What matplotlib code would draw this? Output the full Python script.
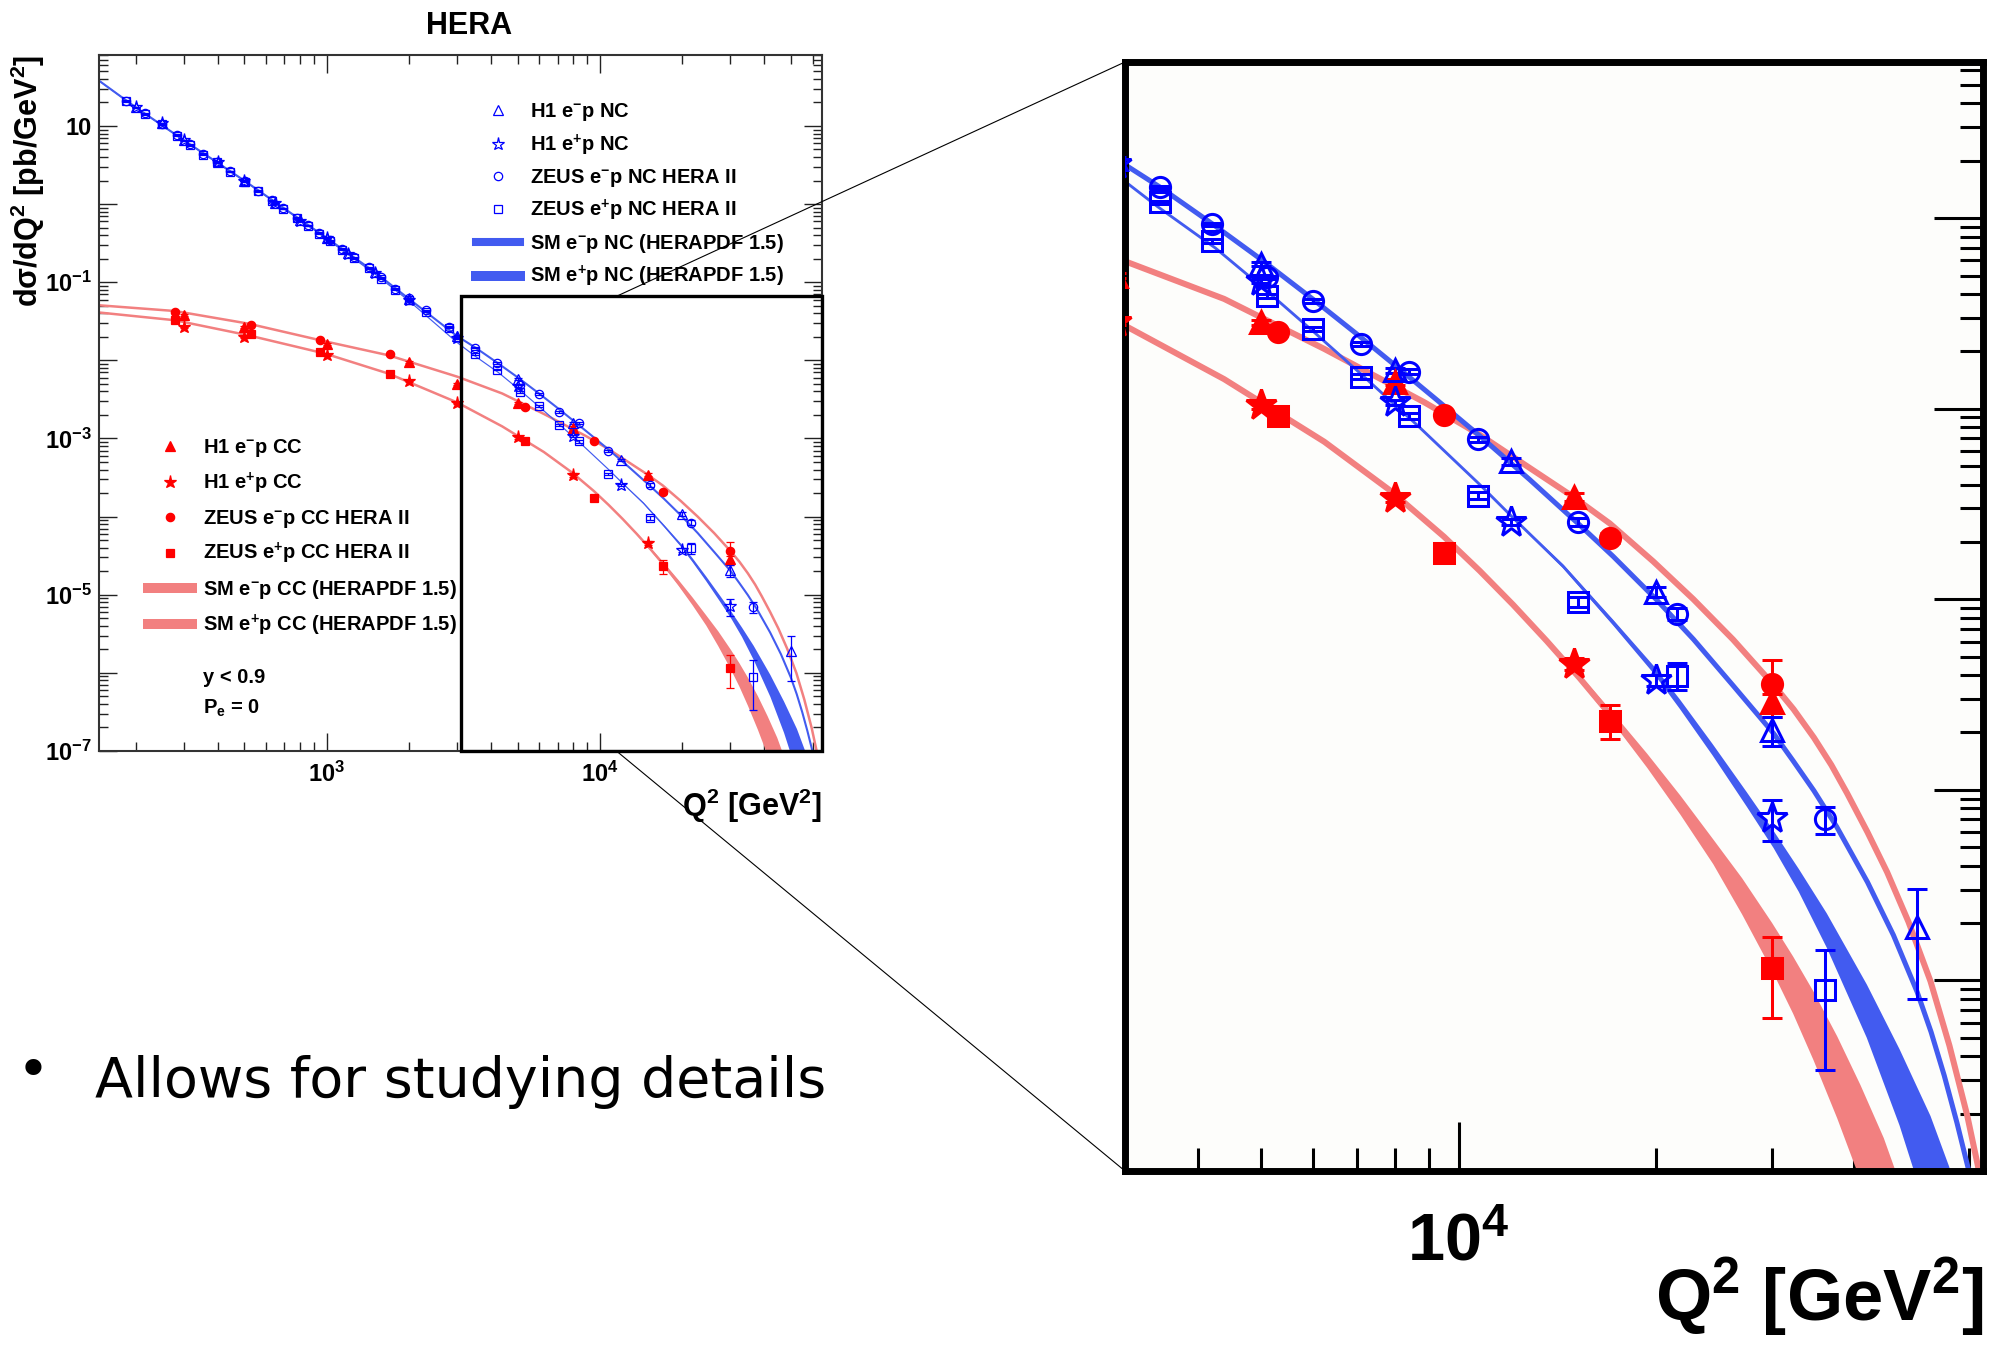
import numpy as np
import matplotlib
matplotlib.use('Agg')
import matplotlib.pyplot as plt
from matplotlib.lines import Line2D
from matplotlib.patches import Rectangle, ConnectionPatch
from matplotlib.ticker import LogLocator, FuncFormatter, NullFormatter

plt.rcParams['font.family'] = ['Liberation Sans', 'DejaVu Sans']
plt.rcParams['font.weight'] = 'bold'
plt.rcParams['mathtext.fontset'] = 'custom'
plt.rcParams['mathtext.rm'] = 'Liberation Sans:bold'
plt.rcParams['mathtext.it'] = 'Liberation Sans:italic:bold'
plt.rcParams['mathtext.bf'] = 'Liberation Sans:bold'
plt.rcParams['mathtext.default'] = 'rm'

# ---- measured cross sections dsigma/dQ2 [pb/GeV^2], errors in percent ----
H1_EM_NC_Q = [200, 250, 300, 400, 500, 650, 800, 1000, 1200, 1500, 2000, 3000, 5000, 8000, 12000, 20000, 30000, 50000]
H1_EM_NC_S = [17.4, 10.9, 6.6, 3.45, 2.0, 1.04, 0.62, 0.37, 0.235, 0.135, 0.0615, 0.0205, 5.74e-3, 1.59e-3, 5.3e-4, 1.09e-4, 2.05e-5, 1.9e-6]
H1_EM_NC_E = [1.5, 1.5, 1.5, 1.5, 1.5, 1.5, 1.5, 1.5, 1.5, 1.5, 2, 2, 2.5, 3, 4, 6, 17, 58]

H1_EP_NC_Q = [200, 250, 300, 400, 500, 650, 800, 1000, 1200, 1500, 2000, 3000, 5000, 8000, 12000, 20000, 30000]
H1_EP_NC_S = [17.3, 10.8, 6.55, 3.42, 1.98, 1.03, 0.61, 0.365, 0.23, 0.132, 0.059, 0.0192, 4.7e-3, 1.08e-3, 2.55e-4, 3.75e-5, 7.1e-6]
H1_EP_NC_E = [1.5, 1.5, 1.5, 1.5, 1.5, 1.5, 1.5, 1.5, 1.5, 1.5, 2, 2, 2.5, 3, 4, 7, 24]

ZEUS_NC_Q = [185, 216, 250, 283, 316, 354, 396, 444, 503, 563, 630, 695, 778, 858, 940, 1030, 1138,
             1255, 1425, 1585, 1783, 1995, 2320, 2800, 3500, 4200, 5100, 6000, 7100, 8400, 10700,
             15200, 21500, 36200]
ZEUS_EM_NC_S = [21.0, 14.5, 10.7, 7.7, 5.8, 4.4, 3.5, 2.65, 1.97, 1.48, 1.12, 0.89, 0.67, 0.54, 0.43,
                0.345, 0.27, 0.21, 0.155, 0.115, 0.083, 0.062, 0.044, 0.027, 0.0145, 9.3e-3, 4.9e-3,
                3.69e-3, 2.19e-3, 1.56e-3, 6.9e-4, 2.55e-4, 8.4e-5, 7.0e-6]
ZEUS_EM_NC_E = [1.5, 1.5, 1.5, 1.5, 1.5, 1.5, 1.5, 1.5, 1.5, 1.5, 1.5, 1.5, 1.5, 1.5, 1.5, 1.5, 1.5,
                1.5, 1.5, 1.5, 1.5, 1.5, 1.5, 1.5, 2, 2, 2, 2.5, 2.5, 3, 3.5, 5, 7, 16]
ZEUS_EP_NC_S = [20.6, 14.2, 10.5, 7.55, 5.7, 4.3, 3.43, 2.6, 1.93, 1.45, 1.1, 0.87, 0.655, 0.53, 0.42,
                0.335, 0.262, 0.204, 0.15, 0.111, 0.08, 0.059, 0.042, 0.026, 0.0121, 7.6e-3, 3.9e-3,
                2.62e-3, 1.47e-3, 9.2e-4, 3.5e-4, 9.7e-5, 3.98e-5, 8.9e-7]
ZEUS_EP_NC_E = [1.5, 1.5, 1.5, 1.5, 1.5, 1.5, 1.5, 1.5, 1.5, 1.5, 1.5, 1.5, 1.5, 1.5, 1.5, 1.5, 1.5,
                1.5, 1.5, 1.5, 1.5, 1.5, 1.5, 1.5, 2, 2, 2.5, 2.5, 3, 3.5, 4, 6, 16, 62]

H1_EM_CC_Q = [300, 500, 1000, 2000, 3000, 5000, 8000, 15000, 30000]
H1_EM_CC_S = [0.0378, 0.027, 0.0164, 9.5e-3, 5.0e-3, 2.84e-3, 1.38e-3, 3.45e-4, 2.88e-5]
H1_EM_CC_E = [3, 3, 3, 3, 3, 3, 4, 5, 10]

H1_EP_CC_Q = [300, 500, 1000, 2000, 3000, 5000, 8000, 15000]
H1_EP_CC_S = [0.0267, 0.0199, 0.0116, 5.4e-3, 2.84e-3, 1.04e-3, 3.4e-4, 4.6e-5]
H1_EP_CC_E = [3, 3, 3, 3, 3, 4, 5, 7]

ZEUS_CC_Q = [280, 530, 950, 1700, 5300, 9500, 17000, 30000]
ZEUS_EM_CC_S = [0.0416, 0.0281, 0.0184, 0.0119, 2.52e-3, 9.26e-4, 2.09e-4, 3.6e-5]
ZEUS_EM_CC_E = [3, 3, 3, 3, 4, 4, 6, 33]
ZEUS_EP_CC_S = [0.0333, 0.022, 0.0128, 6.6e-3, 9.2e-4, 1.74e-4, 2.31e-5, 1.16e-6]
ZEUS_EP_CC_E = [3, 3, 3, 3, 4, 5, 20, 45]

# ---- SM predictions (HERAPDF 1.5); *_W = half width of the uncertainty band in decades ----
NC_EM_Q = [147, 200, 300, 500, 700, 1000, 1500, 2000, 3000, 3500, 4200, 5000, 6000, 7000, 8000, 9300,
           10770, 12840, 15300, 17200, 20000, 22800, 26200, 30200, 32400, 34800, 37700, 42000, 46000,
           50000, 52500, 55000, 57500, 60000, 62500, 66000]
NC_EM_S = [38, 17.4, 6.6, 2.0, 0.88, 0.37, 0.135, 0.0615, 0.0205, 0.0146, 9.4e-3, 6.07e-3, 3.75e-3,
           2.46e-3, 1.69e-3, 1.10e-3, 7.2e-4, 4.24e-4, 2.45e-4, 1.68e-4, 1.0e-4, 6.17e-5, 3.53e-5,
           1.98e-5, 1.41e-5, 9.9e-6, 6.4e-6, 3.28e-6, 1.73e-6, 8.7e-7, 5.37e-7, 3.16e-7, 1.79e-7,
           9.9e-8, 5.2e-8, 1.95e-8]

NC_EP_Q = [147, 200, 300, 500, 700, 1000, 1500, 2000, 3000, 3475, 4260, 5100, 6030, 7100, 8670, 10770,
           12100, 14430, 17200, 19800, 21750, 24400, 27500, 30200, 33000, 36400, 41900, 47000, 52400,
           56000]
NC_EP_S = [38, 17.3, 6.55, 1.98, 0.87, 0.36, 0.128, 0.058, 0.017, 0.0115, 6.96e-3, 4.15e-3, 2.51e-3,
           1.52e-3, 8.13e-4, 4.0e-4, 2.68e-4, 1.49e-4, 7.55e-5, 4.3e-5, 2.81e-5, 1.62e-5, 8.9e-6, 5.5e-6,
           3.35e-6, 1.83e-6, 6.9e-7, 2.75e-7, 1.02e-7, 5.0e-8]
NC_EP_W = [0, 0, 0, 0, 0, 0, 0, 0, 0, 0, 0, 0, 0, 0, 0, 0, 0.004, 0.01, 0.015, 0.02, 0.025, 0.03, 0.038,
           0.045, 0.06, 0.09, 0.14, 0.2, 0.28, 0.32]

CC_EM_Q = [147, 279, 518, 988, 1687, 3000, 4390, 6240, 8870, 10770, 12000, 14950, 17000, 19800, 22800,
           26200, 30200, 32400, 34800, 37000, 39100, 42000, 45000, 48500, 52400, 56000, 59600, 62400,
           66000]
CC_EM_S = [0.0507, 0.0428, 0.0295, 0.0175, 0.0116, 6.2e-3, 3.77e-3, 2.06e-3, 1.08e-3, 7.3e-4, 5.7e-4,
           3.45e-4, 2.5e-4, 1.58e-4, 1.0e-4, 6.15e-5, 3.56e-5, 2.65e-5, 1.88e-5, 1.35e-5, 9.6e-6, 6.0e-6,
           3.7e-6, 2.03e-6, 9.9e-7, 4.55e-7, 1.96e-7, 9.3e-8, 3.6e-8]

CC_EP_Q = [147, 279, 518, 988, 1687, 3000, 4390, 6240, 7890, 9500, 10770, 12100, 13620, 15300, 17200,
           19350, 21750, 24400, 27000, 30000, 32300, 34700, 37700, 40900, 44400, 48000]
CC_EP_S = [0.041, 0.0326, 0.0209, 0.0122, 6.76e-3, 2.9e-3, 1.43e-3, 6.71e-4, 3.69e-4, 2.13e-4, 1.41e-4,
           9.38e-5, 6.05e-5, 3.85e-5, 2.38e-5, 1.43e-5, 8.35e-6, 4.76e-6, 2.78e-6, 1.51e-6, 9.5e-7,
           5.8e-7, 3.12e-7, 1.6e-7, 7.5e-8, 3.3e-8]
CC_EP_W = [0, 0, 0, 0, 0, 0, 0, 0, 0, 0, 0, 0.005, 0.012, 0.018, 0.026, 0.037, 0.05, 0.065, 0.095,
           0.125, 0.15, 0.18, 0.215, 0.25, 0.3, 0.33]

NC_BLUE = '#425bf0'
CC_PINK = '#f28080'
BLUE = '#0000ff'
RED = '#ff0000'
ZOOM = 2.42  # magnification of the detail panel

curves = [
    (CC_EP_Q, CC_EP_S, CC_EP_W, CC_PINK, 1.8),
    (CC_EM_Q, CC_EM_S, None, CC_PINK, 1.8),
    (NC_EP_Q, NC_EP_S, NC_EP_W, NC_BLUE, 0.85),
    (NC_EM_Q, NC_EM_S, None, NC_BLUE, 1.5),
]

points = [
    (H1_EM_CC_Q, H1_EM_CC_S, H1_EM_CC_E, '^', RED, True),
    (H1_EP_CC_Q, H1_EP_CC_S, H1_EP_CC_E, '*', RED, True),
    (ZEUS_CC_Q, ZEUS_EM_CC_S, ZEUS_EM_CC_E, 'o', RED, True),
    (ZEUS_CC_Q, ZEUS_EP_CC_S, ZEUS_EP_CC_E, 's', RED, True),
    (H1_EM_NC_Q, H1_EM_NC_S, H1_EM_NC_E, '^', BLUE, False),
    (H1_EP_NC_Q, H1_EP_NC_S, H1_EP_NC_E, '*', BLUE, False),
    (ZEUS_NC_Q, ZEUS_EM_NC_S, ZEUS_EM_NC_E, 'o', BLUE, False),
    (ZEUS_NC_Q, ZEUS_EP_NC_S, ZEUS_EP_NC_E, 's', BLUE, False),
]


def marker_size(marker):
    return {'*': 9.6, '^': 6.6}.get(marker, 6.0)


def draw_panel(ax, k):
    for q, s, w, color, lw in curves:
        q = np.asarray(q, float)
        s = np.asarray(s, float)
        if w is not None:
            w = np.asarray(w, float)
            ax.fill_between(q, s * 10 ** (-w), s * 10 ** w, color=color, lw=0, zorder=2)
        ax.plot(q, s, color=color, lw=lw * k, zorder=2)
    for q, s, e, marker, color, filled in points:
        s = np.asarray(s, float)
        yerr = s * np.asarray(e, float) / 100.0
        ax.errorbar(q, s, yerr=yerr, fmt=marker, ms=marker_size(marker) * k,
                    mfc=color if filled else 'none', mec=color, mew=0.9 * k,
                    ecolor=color, elinewidth=0.9 * k, capsize=3.0 * k, capthick=0.9 * k,
                    zorder=3)
    ax.set_xscale('log')
    ax.set_yscale('log')
    ax.xaxis.set_major_locator(LogLocator(base=10, numticks=20))
    ax.xaxis.set_minor_locator(LogLocator(base=10, subs=np.arange(2, 10), numticks=20))
    ax.yaxis.set_major_locator(LogLocator(base=10, numticks=20))
    ax.yaxis.set_minor_locator(LogLocator(base=10, subs=np.arange(2, 10), numticks=20))
    ax.xaxis.set_minor_formatter(NullFormatter())
    ax.yaxis.set_minor_formatter(NullFormatter())
    ax.xaxis.set_major_formatter(FuncFormatter(lambda v, p: '$10^{%d}$' % round(np.log10(v))))


def odd_decades(v, pos):
    e = int(round(np.log10(v)))
    if e % 2 == 0:
        return ''
    return '10' if e == 1 else '$10^{%d}$' % e


fig = plt.figure(figsize=(19.99, 13.53), dpi=100)
ax1 = fig.add_axes([0.04953, 0.44494, 0.36168, 0.51441])
ax2 = fig.add_axes([0.56278, 0.13452, 0.42921, 0.81966])

# full Q2 range
draw_panel(ax1, 1.0)
ax1.set_xlim(147, 65000)
ax1.set_ylim(1e-7, 81)
ax1.yaxis.set_major_formatter(FuncFormatter(odd_decades))
ax1.tick_params(which='both', direction='in', top=True, right=True, color='#222222', width=1.0)
ax1.tick_params(which='major', length=13, labelsize=17)
ax1.tick_params(which='minor', length=6.5)
ax1.tick_params(axis='x', which='major', pad=8)
ax1.tick_params(axis='y', which='major', pad=5)
for sp in ax1.spines.values():
    sp.set_linewidth(1.5)
    sp.set_color('#333333')

# high Q2 detail
draw_panel(ax2, ZOOM)
ax2.set_xlim(3100, 63000)
ax2.set_ylim(1e-7, 0.066)
ax2.set_facecolor('#fdfdfb')
ax2.yaxis.set_major_formatter(NullFormatter())
ax2.tick_params(which='both', direction='in', left=False, top=False, right=True, bottom=True,
                labelleft=False, width=2.2, color='black')
ax2.tick_params(which='major', length=35, labelsize=48, pad=30)
ax2.tick_params(which='minor', length=16.5)
for sp in ax2.spines.values():
    sp.set_linewidth(5)
    sp.set_color('black')

# box marking the enlarged region, and the lines joining it to the detail panel
x0, x1 = ax2.get_xlim()
y0, y1 = ax2.get_ylim()
ax1.add_patch(Rectangle((x0, y0), ax1.get_xlim()[1] - x0, y1 - y0, fill=False,
                        ec='black', lw=2.4, clip_on=False, zorder=6))
for ya, yb in ((y1, 1.0), (y0, 0.0)):
    fig.add_artist(ConnectionPatch(xyA=(11500, ya), coordsA=ax1.transData,
                                   xyB=(0.0, yb), coordsB=ax2.transAxes,
                                   color='black', lw=0.8, zorder=7))

# legends
def data_handle(marker, color, filled):
    return Line2D([], [], ls='none', marker=marker, ms=marker_size(marker),
                  mfc=color if filled else 'none', mec=color, mew=0.9)


nc_handles = [data_handle('^', BLUE, False), data_handle('*', BLUE, False),
              data_handle('o', BLUE, False), data_handle('s', BLUE, False),
              Line2D([], [], color=NC_BLUE, lw=5.8), Line2D([], [], color=NC_BLUE, lw=7.2)]
nc_labels = ['H1 e$^{-}$p NC', 'H1 e$^{+}$p NC', 'ZEUS e$^{-}$p NC HERA II',
             'ZEUS e$^{+}$p NC HERA II', 'SM e$^{-}$p NC (HERAPDF 1.5)',
             'SM e$^{+}$p NC (HERAPDF 1.5)']
cc_handles = [data_handle('^', RED, True), data_handle('*', RED, True),
              data_handle('o', RED, True), data_handle('s', RED, True),
              Line2D([], [], color=CC_PINK, lw=7.2), Line2D([], [], color=CC_PINK, lw=7.2)]
cc_labels = ['H1 e$^{-}$p CC', 'H1 e$^{+}$p CC', 'ZEUS e$^{-}$p CC HERA II',
             'ZEUS e$^{+}$p CC HERA II', 'SM e$^{-}$p CC (HERAPDF 1.5)',
             'SM e$^{+}$p CC (HERAPDF 1.5)']

leg1 = ax1.legend(nc_handles, nc_labels, loc='upper left', bbox_to_anchor=(0.5214, 0.9335),
                  frameon=False, fontsize=14.5, handlelength=2.2, handletextpad=0.5,
                  labelspacing=0.45, borderpad=0, borderaxespad=0)
ax1.add_artist(leg1)
ax1.legend(cc_handles, cc_labels, loc='upper left', bbox_to_anchor=(0.0678, 0.4507),
           frameon=False, fontsize=14.5, handlelength=2.2, handletextpad=0.55,
           labelspacing=0.57, borderpad=0, borderaxespad=0)
ax1.text(0.1438, 0.1063, 'y < 0.9', transform=ax1.transAxes, fontsize=14.5, va='center')
ax1.text(0.1438, 0.0618, 'P$_{e}$ = 0', transform=ax1.transAxes, fontsize=14.5, va='center')

# titles and axis labels
fig.text(469 / 1999, 1 - 26 / 1353, 'HERA', ha='center', va='center', fontsize=22)
fig.text(28 / 1999, 1 - 55 / 1353, 'd\u03c3/dQ$^{2}$ [pb/GeV$^{2}$]', rotation=90,
         ha='center', va='top', fontsize=22)
fig.text(822 / 1999, 1 - 806 / 1353, 'Q$^{2}$ [GeV$^{2}$]', ha='right', va='center', fontsize=22)
fig.text(1983 / 1999, 1 - 1297 / 1353, 'Q$^{2}$ [GeV$^{2}$]', ha='right', va='center', fontsize=52)

# slide bullet
fig.text(33 / 1999, 1 - 1073 / 1353, '\u2022', ha='center', va='center', fontsize=40,
         family='DejaVu Sans', fontweight='normal')
fig.text(95 / 1999, 1 - 1097 / 1353, 'Allows for studying details', ha='left', va='baseline',
         fontsize=40, family='DejaVu Sans', fontweight='normal')

fig.savefig('out.png', dpi=100)
